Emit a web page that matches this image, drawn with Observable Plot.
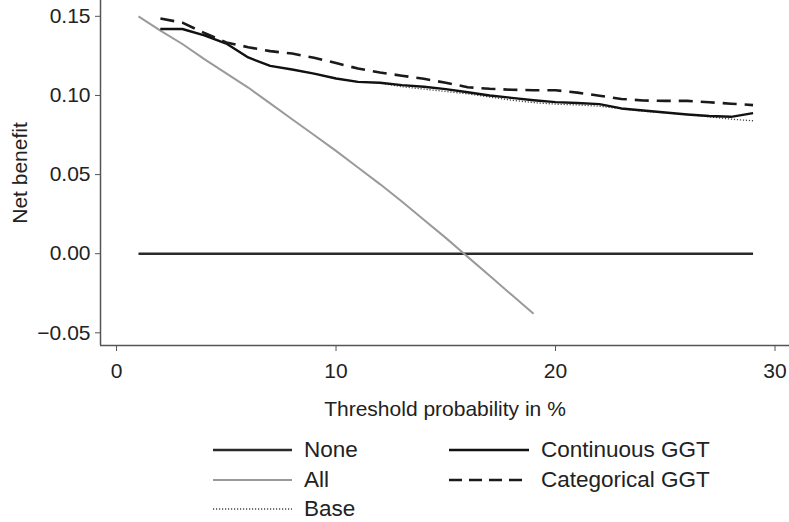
<!DOCTYPE html>
<html><head><meta charset="utf-8">
<script src="https://cdn.jsdelivr.net/npm/d3@7"></script>
<script src="https://cdn.jsdelivr.net/npm/@observablehq/plot@0.6"></script>
<style>
body{margin:0;background:#fff;font-family:"Liberation Sans",Arial,sans-serif;}
#chart{position:relative;width:789px;height:522px;overflow:hidden;}
.leg{position:absolute;display:flex;align-items:center;font-size:22.5px;color:#222;}
.leg svg{margin-right:12px;}
</style></head><body><div id="chart"></div>
<script>
// Threshold probabilities (%)
const thresholds = [1,2,3,4,5,6,7,8,9,10,11,12,13,14,15,16,17,18,19,20,21,22,23,24,25,26,27,28,29];
// Net benefit by strategy (null = not drawn at that threshold)
const netNone = [0,0,0,0,0,0,0,0,0,0,0,0,0,0,0,0,0,0,0,0,0,0,0,0,0,0,0,0,0];
const netAll = [0.150,0.141,0.1325,0.123,0.114,0.105,0.095,0.085,0.075,0.065,0.0545,0.044,0.033,0.0215,0.010,-0.002,-0.014,-0.026,-0.038,
  null,null,null,null,null,null,null,null,null,null];
const netBase = [null,0.142,0.142,0.138,0.1328,0.1240,0.1187,0.1164,0.1138,0.1107,0.1086,0.1078,0.1055,0.1040,0.1025,0.1010,0.0990,0.0970,0.0955,0.0945,0.0940,0.0932,0.0915,0.0900,0.0890,0.0880,0.0865,0.0850,0.0840];
const netContinuous = [null,0.142,0.142,0.138,0.1328,0.1240,0.1187,0.1164,0.1138,0.1107,0.1086,0.1080,0.1065,0.1055,0.1040,0.1020,0.1000,0.0985,0.0970,0.0958,0.0952,0.0945,0.0918,0.0905,0.0892,0.0880,0.0870,0.0865,0.0888];
const netCategorical = [null,0.1486,0.1460,0.1395,0.1335,0.1305,0.128,0.1265,0.1238,0.1205,0.117,0.1145,0.1125,0.1105,0.108,0.1052,0.1042,0.1036,0.1033,0.1033,0.1018,0.0998,0.0978,0.0968,0.0966,0.0966,0.0957,0.0948,0.0939];
const xTicks = [0,10,20,30];
const yTicks = [-0.05,0,0.05,0.10,0.15];
const xDomain = [-0.73, 30.66];
const yDomain = [-0.058, 0.160];
const legendLabels = ["None","All","Base","Continuous GGT","Categorical GGT"];

const series = {None: netNone, All: netAll, Base: netBase, "Continuous GGT": netContinuous, "Categorical GGT": netCategorical};
const rows = [];
for (const [name, vals] of Object.entries(series)) {
  thresholds.forEach((t, i) => { if (vals[i] !== null) rows.push({strategy: name, t, nb: vals[i]}); });
}
const styles = {
  "None": {stroke:"#2a2a2a", strokeWidth:2.6, dash:null},
  "All": {stroke:"#9a9a9a", strokeWidth:2, dash:null},
  "Base": {stroke:"#444", strokeWidth:1.3, dash:"1.2,1.8"},
  "Continuous GGT": {stroke:"#111", strokeWidth:2.4, dash:null},
  "Categorical GGT": {stroke:"#1a1a1a", strokeWidth:2.6, dash:"14,8"}
};
const order = ["None","All","Base","Continuous GGT","Categorical GGT"];
const lineMarks = order.map(name => Plot.line(rows.filter(r => r.strategy === name), {
  x: "t", y: "nb", stroke: styles[name].stroke, strokeWidth: styles[name].strokeWidth,
  strokeDasharray: styles[name].dash ?? undefined, strokeLinecap: "butt"
}));

const fmt = d => (d < 0 ? "\u2212" : "") + Math.abs(d).toFixed(2);
const plot = Plot.plot({
  width: 789, height: 425,
  marginLeft: 100, marginRight: 0, marginTop: 0, marginBottom: 80,
  style: {fontFamily: '"Liberation Sans", Arial, sans-serif', fontSize: "21px", color: "#222", background: "#fff"},
  x: {domain: xDomain},
  y: {domain: yDomain},
  marks: [
    Plot.axisY({ticks: yTicks, tickFormat: fmt, tickSize: 5, tickPadding: 5, stroke: "#555", fontSize: 21,
      label: "Net benefit", labelAnchor: "center", labelOffset: 88, labelArrow: "none"}),
    Plot.axisX({ticks: xTicks, tickSize: 6, tickPadding: 12, stroke: "#555", fontSize: 21,
      label: "Threshold probability in %", labelAnchor: "center", labelOffset: 70, labelArrow: "none"}),
    Plot.ruleX([xDomain[0]], {stroke: "#555", strokeWidth: 1.5}),
    Plot.ruleY([yDomain[0]], {stroke: "#555", strokeWidth: 1.5}),
    ...lineMarks
  ]
});
const chart = document.getElementById("chart");
chart.appendChild(plot);

// Legend below the plot
const legPos = [
  {col:0,row:0},{col:0,row:1},{col:0,row:2},{col:1,row:0},{col:1,row:1}
];
const colX = [213, 449], colW = [79, 80], rowY = [450, 480, 509];
legendLabels.forEach((name, i) => {
  const p = legPos[i], st = styles[name];
  const div = document.createElement("div");
  div.className = "leg";
  div.style.left = colX[p.col] + "px";
  div.style.top = (rowY[p.row] - 13) + "px";
  div.style.height = "26px";
  const svg = d3.create("svg").attr("width", colW[p.col]).attr("height", 10);
  svg.append("line").attr("x1",0).attr("x2",colW[p.col]).attr("y1",5).attr("y2",5)
    .attr("stroke", st.stroke).attr("stroke-width", st.strokeWidth)
    .attr("stroke-dasharray", name === "Categorical GGT" ? "13,7" : st.dash);
  div.appendChild(svg.node());
  const sp = document.createElement("span");
  sp.textContent = name;
  div.appendChild(sp);
  chart.appendChild(div);
});
</script>
</body></html>
